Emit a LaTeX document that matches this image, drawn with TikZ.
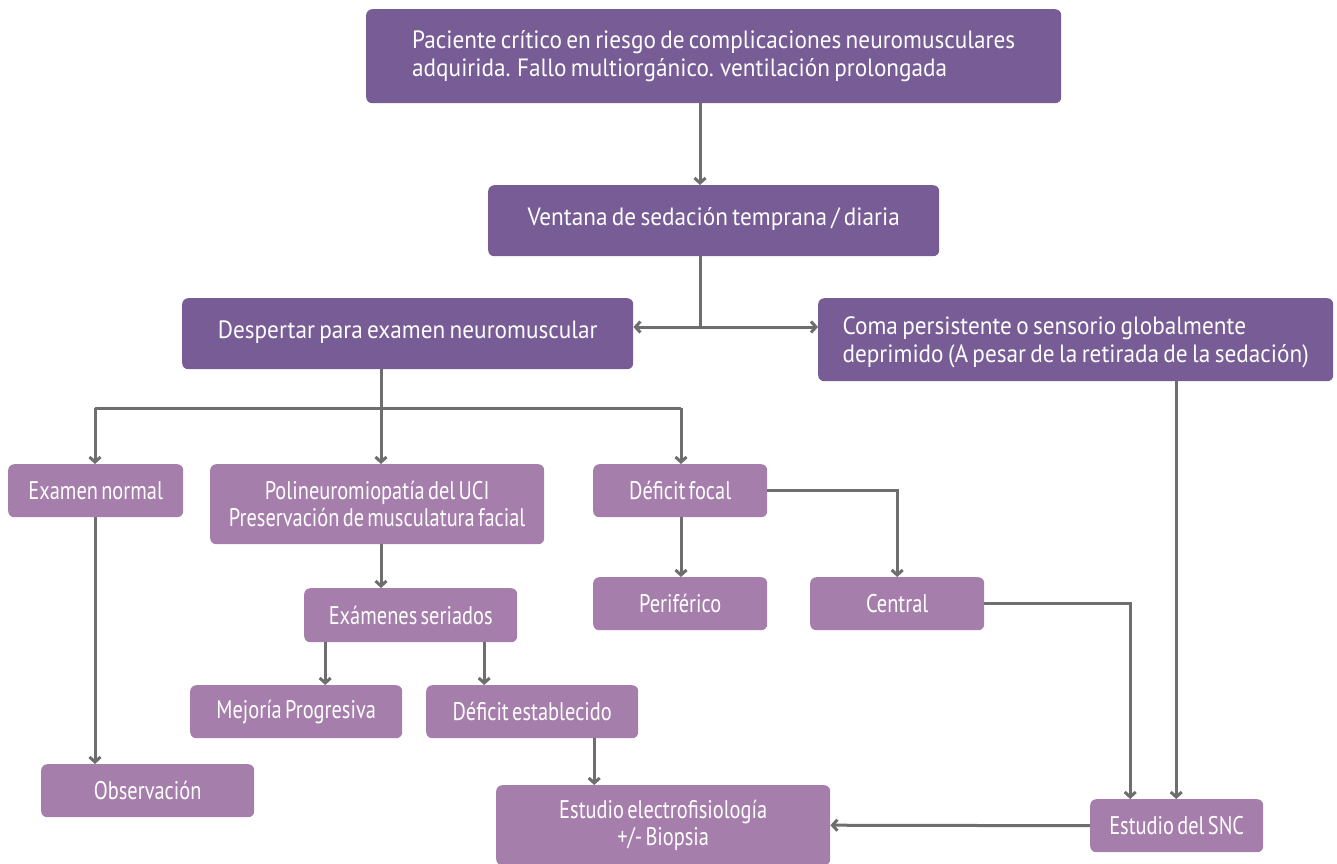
\documentclass[tikz,border=0pt]{standalone}
\usepackage{fontspec}
\usetikzlibrary{arrows.meta,calc}
\newfontfamily\darkfont[FakeStretch=0.93,WordSpace=0.7]{PT Sans}
\newfontfamily\lightfont[FakeStretch=0.8,WordSpace=0.6]{PT Sans}
\definecolor{plum}{HTML}{775C95}
\definecolor{mauve}{HTML}{A67EAC}
\definecolor{wire}{HTML}{6E6E6E}
\tikzset{
  darkbox/.style={fill=plum, rounded corners=6pt, text=white, anchor=north west,
    font=\darkfont\fontsize{25}{28}\selectfont, align=left, inner sep=0pt},
  lightbox/.style={fill=mauve, rounded corners=6pt, text=white, anchor=north west,
    font=\lightfont\fontsize{25.5}{27}\selectfont, align=center, inner sep=0pt},
  link/.style={draw=wire, line width=3pt},
  arr/.style={link, -{Straight Barb[length=5pt,width=11pt]}},
}
\begin{document}
\begin{tikzpicture}[x=1pt,y=-1pt]
\useasboundingbox (0,0) rectangle (1337,863);

% upper level
\node[darkbox, minimum width=695pt, minimum height=94pt]
  (top) at (366,9) {Paciente crítico en riesgo de complicaciones neuromusculares\\adquirida. Fallo multiorgánico. ventilación prolongada};
\node[darkbox, minimum width=451pt, minimum height=71pt, text depth=9pt]
  (vent) at (488,185) {Ventana de sedación temprana / diaria};
\node[darkbox, minimum width=451pt, minimum height=71pt, text depth=9pt]
  (desp) at (182,298) {Despertar para examen neuromuscular};
\node[darkbox, minimum width=515pt, minimum height=83pt, inner ysep=4pt, text depth=0pt]
  (coma) at (818,298) {Coma persistente o sensorio globalmente\\deprimido (A pesar de la retirada de la sedación)};

% examination results
\node[lightbox, minimum width=175pt, minimum height=53pt] (norm) at (8,464) {Examen normal};
\node[lightbox, minimum width=334pt, minimum height=80pt] (poli) at (210,464) {Polineuromiopatía del UCI\\Preservación de musculatura facial};
\node[lightbox, minimum width=174pt, minimum height=53pt] (focal) at (593,464) {Déficit focal};
\node[lightbox, minimum width=174pt, minimum height=53pt] (peri) at (593,577) {Periférico};
\node[lightbox, minimum width=174pt, minimum height=53pt] (cent) at (810,577) {Central};
\node[lightbox, minimum width=213pt, minimum height=54pt] (seri) at (304,588) {Exámenes seriados};
\node[lightbox, minimum width=212pt, minimum height=53pt] (mejo) at (190,685) {Mejoría Progresiva};
\node[lightbox, minimum width=212pt, minimum height=53pt] (esta) at (426,685) {Déficit establecido};
\node[lightbox, minimum width=213pt, minimum height=53pt] (obse) at (41,764) {Observación};
\node[lightbox, minimum width=334pt, minimum height=80pt] (elec) at (496,785) {Estudio electrofisiología\\+/- Biopsia};
\node[lightbox, minimum width=173pt, minimum height=53pt] (snc) at (1090,799) {Estudio del SNC};

% junctions
\coordinate (split) at (700,327);
\coordinate (bus) at (381,408);
\coordinate (busL) at (95,408);
\coordinate (busR) at (681,408);

% connectors
\draw[arr] (split |- top.south) -- (split |- vent.north);
\draw[link] (split |- vent.south) -- (split);
\draw[arr] (split) -- (split -| desp.east);
\draw[arr] (split) -- (split -| coma.west);

\draw[link] (bus |- desp.south) -- (bus);
\draw[link] (busL) -- (busR);
\draw[arr] (busL) -- (busL |- norm.north);
\draw[arr] (bus) -- (bus |- poli.north);
\draw[arr] (busR) -- (busR |- focal.north);

\draw[arr] (busL |- norm.south) -- (busL |- obse.north);
\draw[arr] (bus |- poli.south) -- (bus |- seri.north);
\draw[arr] ([xshift=-85.5pt]seri.south) -- ([xshift=-85.5pt]seri.south |- mejo.north);
\draw[arr] ([xshift=73.5pt]seri.south) -- ([xshift=73.5pt]seri.south |- esta.north);
\draw[arr] (busR |- focal.south) -- (busR |- peri.north);
\draw[arr] (focal.east) -| (cent.north);
\draw[arr] ([xshift=62pt]esta.south) -- ([xshift=62pt]esta.south |- elec.north);
\draw[arr] (cent.east) -| ([xshift=-46.5pt]snc.north);
\draw[arr] ([xshift=100.5pt]coma.south) -- ([xshift=100.5pt]coma.south |- snc.north);
\draw[arr] (snc.west) -- (elec.east);
\end{tikzpicture}
\end{document}
